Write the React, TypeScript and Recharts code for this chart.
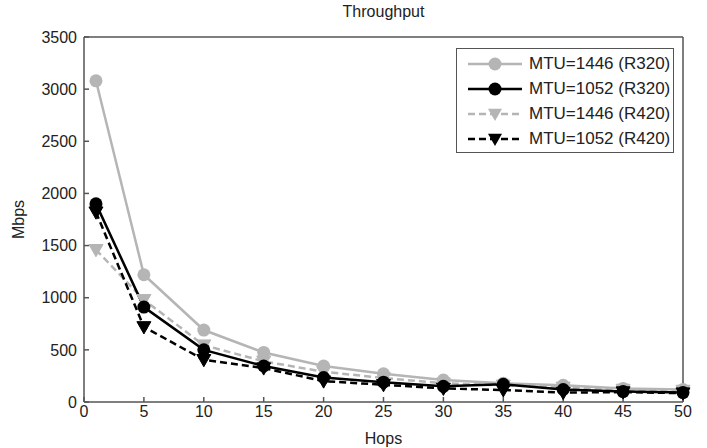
import { LineChart, Line, XAxis, YAxis } from "recharts"

const hops = [1, 5, 10, 15, 20, 25, 30, 35, 40, 45, 50]
const mtu1446R320 = [3080, 1220, 690, 475, 345, 270, 210, 180, 160, 130, 120]
const mtu1052R320 = [1900, 910, 500, 345, 235, 190, 150, 170, 120, 100, 90]
const mtu1446R420 = [1460, 980, 545, 390, 290, 230, 180, 160, 140, 120, 110]
const mtu1052R420 = [1820, 720, 405, 325, 200, 165, 130, 115, 90, 95, 85]

const xTicks = [0, 5, 10, 15, 20, 25, 30, 35, 40, 45, 50]
const yTicks = [0, 500, 1000, 1500, 2000, 2500, 3000, 3500]

const seriesNames = [
    "MTU=1446 (R320)",
    "MTU=1052 (R320)",
    "MTU=1446 (R420)",
    "MTU=1052 (R420)",
]

const data = hops.map((h, i) => ({
    hops: h,
    a: mtu1446R320[i],
    b: mtu1052R320[i],
    c: mtu1446R420[i],
    d: mtu1052R420[i],
}))

const GRAY = "#b5b5b5"
const BLACK = "#000"
const AXIS = "#555"
const FONT = "'Liberation Sans', Arial, sans-serif"

const tri = (cx: number, cy: number, s: number) =>
    `M${cx - s},${cy - s * 0.75} L${cx + s},${cy - s * 0.75} L${cx},${cy + s} Z`

const TriangleDot = (color: string) => (props: any) => {
    const { cx, cy, index } = props
    if (cx == null || cy == null) return <g key={index} />
    return <path key={index} d={tri(cx, cy, 7)} fill={color} stroke={color} />
}

const CircleDot = (color: string) => (props: any) => {
    const { cx, cy, index } = props
    if (cx == null || cy == null) return <g key={index} />
    return <circle key={index} cx={cx} cy={cy} r={6.5} fill={color} />
}

const legendItems = [
    { color: GRAY, dash: undefined, marker: "circle" },
    { color: BLACK, dash: undefined, marker: "circle" },
    { color: GRAY, dash: "7 4", marker: "tri" },
    { color: BLACK, dash: "7 4", marker: "tri" },
]

const LegendBox = () => (
    <div
        style={{
            position: "absolute",
            left: 456,
            top: 48,
            border: "1px solid #555",
            background: "#fff",
            width: 218,
            height: 105,
            boxSizing: "border-box",
            paddingTop: 3,
            fontFamily: FONT,
            fontSize: 17,
            color: "#222",
            whiteSpace: "nowrap",
        }}
    >
        {legendItems.map((it, i) => (
            <div key={i} style={{ display: "flex", alignItems: "center", height: 24.8 }}>
                <svg width={70} height={20} style={{ marginLeft: 2, flexShrink: 0 }}>
                    <line x1={9} y1={10} x2={63} y2={10} stroke={it.color} strokeWidth={2.5} strokeDasharray={it.dash} />
                    {it.marker === "circle" ? (
                        <circle cx={36} cy={10} r={6.5} fill={it.color} />
                    ) : (
                        <path d={tri(36, 10, 7)} fill={it.color} />
                    )}
                </svg>
                <span>{seriesNames[i]}</span>
            </div>
        ))}
    </div>
)

const tickStyle = { fontFamily: FONT, fontSize: 16, fill: "#222" }

export default function App() {
    return (
        <div style={{ position: "absolute", left: 0, top: 0, width: 707, height: 448, background: "#fff" }}>
            <div
                style={{
                    position: "absolute",
                    top: 3,
                    left: 84,
                    width: 599,
                    textAlign: "center",
                    fontFamily: FONT,
                    fontSize: 16,
                    color: "#222",
                }}
            >
                Throughput
            </div>
            <LineChart width={707} height={448} data={data} margin={{ top: 36, right: 23, bottom: 0, left: 0 }}>
                <XAxis
                    dataKey="hops"
                    type="number"
                    domain={[0, 50]}
                    ticks={xTicks}
                    tickSize={-5}
                    tickMargin={9}
                    height={46}
                    stroke={AXIS}
                    strokeWidth={1.5}
                    tick={tickStyle}
                    label={{ value: "Hops", position: "insideBottom", offset: 4, style: tickStyle }}
                />
                <XAxis
                    xAxisId="top"
                    dataKey="hops"
                    type="number"
                    orientation="top"
                    domain={[0, 50]}
                    ticks={xTicks}
                    tickSize={-5}
                    tick={false}
                    height={1}
                    stroke={AXIS}
                    strokeWidth={1.5}
                />
                <YAxis
                    type="number"
                    domain={[0, 3500]}
                    ticks={yTicks}
                    tickSize={-5}
                    tickMargin={12}
                    width={84}
                    stroke={AXIS}
                    strokeWidth={1.5}
                    tick={tickStyle}
                    label={{ value: "Mbps", angle: -90, position: "insideLeft", offset: 18, style: { ...tickStyle, textAnchor: "middle" } }}
                />
                <YAxis
                    yAxisId="right"
                    orientation="right"
                    type="number"
                    domain={[0, 3500]}
                    ticks={yTicks}
                    tickSize={-5}
                    tick={false}
                    width={1}
                    stroke={AXIS}
                    strokeWidth={1.5}
                />
                <Line dataKey="a" stroke={GRAY} strokeWidth={2.5} dot={CircleDot(GRAY)} isAnimationActive={false} />
                <Line dataKey="c" stroke={GRAY} strokeWidth={2.5} strokeDasharray="7 4" dot={TriangleDot(GRAY)} isAnimationActive={false} />
                <Line dataKey="b" stroke={BLACK} strokeWidth={2.5} dot={CircleDot(BLACK)} isAnimationActive={false} />
                <Line dataKey="d" stroke={BLACK} strokeWidth={2.5} strokeDasharray="7 4" dot={TriangleDot(BLACK)} isAnimationActive={false} />
            </LineChart>
            <LegendBox />
        </div>
    )
}
